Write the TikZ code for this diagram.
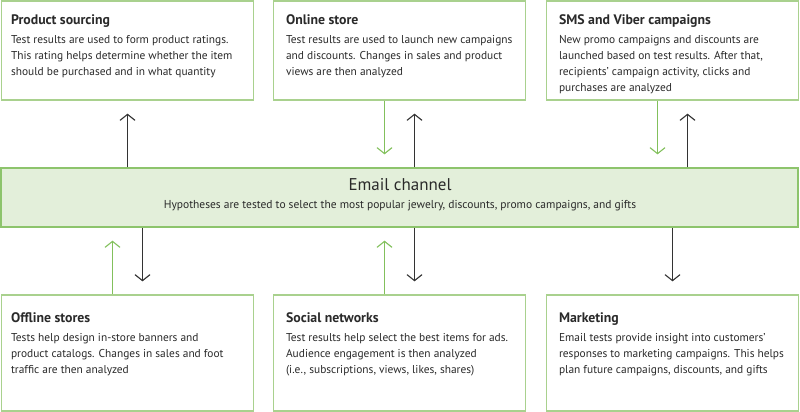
\documentclass[tikz,border=0pt]{standalone}
\usepackage{fontspec}
\setmainfont{PT Sans}
\usetikzlibrary{arrows.meta,positioning}
\definecolor{BoxLine}{HTML}{A9D18E}
\definecolor{BandBg}{HTML}{E3EFDA}
\definecolor{BandLine}{HTML}{8DC46C}
\definecolor{GArrow}{HTML}{82C05C}
\definecolor{DArrow}{HTML}{333333}
\definecolor{Txt}{HTML}{2A2A2A}

\begin{document}
\begin{tikzpicture}[x=1pt, y=-1pt,
  every node/.style={font=\fontsize{11.4}{16}\selectfont, text=Txt},
  box/.style={rectangle, draw=BoxLine, line width=1.3pt, fill=white,
              minimum width=252pt, inner sep=0pt},
  band/.style={rectangle, draw=BandLine, line width=1.3pt, fill=BandBg,
               minimum width=797pt, minimum height=59pt, inner sep=0pt},
  txt/.style={anchor=north west, align=left, inner sep=0pt},
  arr/.style={-{Straight Barb[length=6pt,width=15pt]}, line width=1.1pt, draw=DArrow,
              shorten >=13pt},
  garr/.style={arr, draw=GArrow},
]
\useasboundingbox (0,0) rectangle (800,412);
% top row
\node[box, minimum height=99pt]  (ps) at (127.5, 50.5) {};
\node[box, minimum height=99pt]  (os) at (399.5, 50.5) {};
\node[box, minimum height=99pt]  (sms) at (672.5, 50.5) {};
% email channel
\node[band] (mail) at (399.5, 197.5) {};
\node[font=\fontsize{17}{19}\selectfont] (mail-t) at (400, 185) {Email channel};
\node[font=\fontsize{11.5}{14}\selectfont] (mail-s) at (400, 206) {Hypotheses are tested to select the most popular jewelry, discounts, promo campaigns, and gifts};
% bottom row
\node[box, minimum height=116pt] (off) at (127.5, 353) {};
\node[box, minimum height=116pt] (soc) at (399.5, 353) {};
\node[box, minimum height=116pt] (mkt) at (672.5, 353) {};
% box texts
\node[txt] (ps-t) at ([xshift=10pt,yshift=-14pt]ps.north west)
  {\textbf{\fontsize{13.8}{16}\selectfont Product sourcing}\\[3pt]
   Test results are used to form product ratings.\\
   This rating helps determine whether the item\\
   should be purchased and in what quantity};
\node[txt] (os-t) at ([xshift=13pt,yshift=-14pt]os.north west)
  {\textbf{\fontsize{13.8}{16}\selectfont Online store}\\[3pt]
   Test results are used to launch new campaigns\\
   and discounts. Changes in sales and product\\
   views are then analyzed};
\node[txt] (sms-t) at ([xshift=13pt,yshift=-14pt]sms.north west)
  {\textbf{\fontsize{13.8}{16}\selectfont SMS and Viber campaigns}\\[3pt]
   New promo campaigns and discounts are\\
   launched based on test results. After that,\\
   recipients' campaign activity, clicks and\\
   purchases are analyzed};
\node[txt] (off-t) at ([xshift=10pt,yshift=-18pt]off.north west)
  {\textbf{\fontsize{13.8}{16}\selectfont Offline stores}\\[3pt]
   Tests help design in-store banners and\\
   product catalogs. Changes in sales and foot\\
   traffic are then analyzed};
\node[txt] (soc-t) at ([xshift=13pt,yshift=-18pt]soc.north west)
  {\textbf{\fontsize{13.8}{16}\selectfont Social networks}\\[3pt]
   Test results help select the best items for ads.\\
   Audience engagement is then analyzed\\
   (i.e., subscriptions, views, likes, shares)};
\node[txt] (mkt-t) at ([xshift=13pt,yshift=-18pt]mkt.north west)
  {\textbf{\fontsize{13.8}{16}\selectfont Marketing}\\[3pt]
   Email tests provide insight into customers'\\
   responses to marketing campaigns. This helps\\
   plan future campaigns, discounts, and gifts};
% arrows, top
\draw[arr]  (mail.north -| ps.south) -- (ps.south);
\draw[garr] ([xshift=-15pt]os.south) -- ([xshift=-15pt]os.south |- mail.north);
\draw[arr]  ([xshift=15pt]os.south |- mail.north) -- ([xshift=15pt]os.south);
\draw[garr] ([xshift=-15pt]sms.south) -- ([xshift=-15pt]sms.south |- mail.north);
\draw[arr]  ([xshift=15pt]sms.south |- mail.north) -- ([xshift=15pt]sms.south);
% arrows, bottom
\draw[garr] ([xshift=-15pt]off.north) -- ([xshift=-15pt]off.north |- mail.south);
\draw[arr]  ([xshift=15pt]off.north |- mail.south) -- ([xshift=15pt]off.north);
\draw[garr] ([xshift=-15pt]soc.north) -- ([xshift=-15pt]soc.north |- mail.south);
\draw[arr]  ([xshift=15pt]soc.north |- mail.south) -- ([xshift=15pt]soc.north);
\draw[arr]  (mail.south -| mkt.north) -- (mkt.north);
\end{tikzpicture}
\end{document}
